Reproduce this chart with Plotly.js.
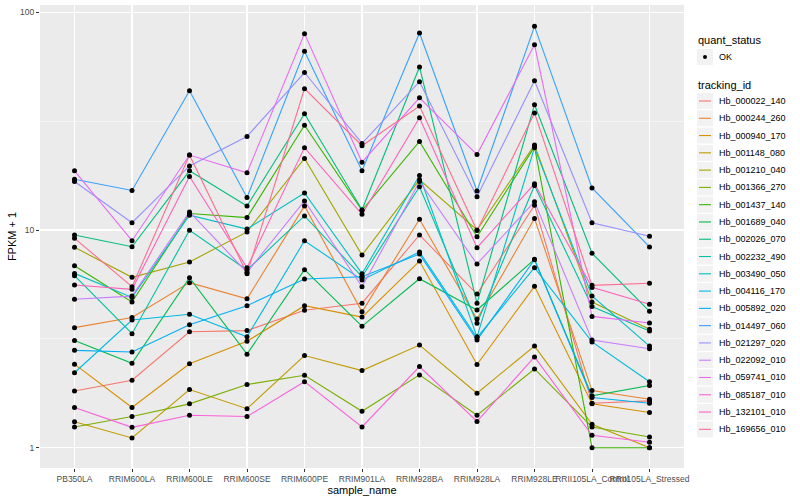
<!DOCTYPE html>
<html><head><meta charset="utf-8">
<script src="https://cdn.plot.ly/plotly-3.0.1.min.js"></script>
<style>html,body{margin:0;padding:0;background:#fff}#chart{width:800px;height:500px}</style>
</head><body><div id="chart"></div>
<script>
const samples = ["PB350LA","RRIM600LA","RRIM600LE","RRIM600SE","RRIM600PE","RRIM901LA","RRIM928BA","RRIM928LA","RRIM928LE","RRII105LA_Control","RRII105LA_Stressed"];
const trackingIds = ["Hb_000022_140","Hb_000244_260","Hb_000940_170","Hb_001148_080","Hb_001210_040","Hb_001366_270","Hb_001437_140","Hb_001689_040","Hb_002026_070","Hb_002232_490","Hb_003490_050","Hb_004116_170","Hb_005892_020","Hb_014497_060","Hb_021297_020","Hb_022092_010","Hb_059741_010","Hb_085187_010","Hb_132101_010","Hb_169656_010"];
const colors = ["#F8766D","#EA8331","#D89000","#C09B00","#A3A500","#7CAE00","#39B600","#00BB4E","#00BF7D","#00C1A3","#00BFC4","#00BAE0","#00B0F6","#35A2FF","#9590FF","#C77CFF","#E76BF3","#FA62DB","#FF62BC","#FF6C91"];

const Hb_000022_140 = [1.82, 2.04, 3.41, 3.45, 4.28, 4.61, 9.49, 5.08, 13.0, 1.60, 1.64];
const Hb_000244_260 = [3.56, 3.96, 5.73, 4.83, 12.9, 4.21, 11.2, 3.9, 11.3, 1.83, 1.67];
const Hb_000940_170 = [2.42, 1.53, 2.43, 3.08, 4.49, 3.98, 7.2, 2.41, 5.51, 1.59, 1.45];
const Hb_001148_080 = [1.317, 1.108, 1.85, 1.51, 2.65, 2.26, 2.96, 1.78, 2.93, 1.28, 1.0];
const Hb_001210_040 = [8.33, 6.06, 7.13, 9.8, 21.3, 7.67, 17.0, 10.0, 24.6, 4.67, 3.50];
const Hb_001366_270 = [1.245, 1.39, 1.59, 1.95, 2.15, 1.47, 2.16, 1.41, 2.30, 1.245, 1.12];
const Hb_001437_140 = [6.85, 4.67, 11.9, 11.4, 30.3, 12.3, 25.5, 9.31, 24.1, 1.0, 1.0];
const Hb_001689_040 = [3.11, 2.44, 6.04, 2.69, 6.57, 3.61, 5.97, 4.29, 7.33, 1.73, 1.93];
const Hb_002026_070 = [9.49, 8.38, 18.7, 12.9, 34.2, 12.4, 56.1, 4.61, 37.6, 7.82, 4.23];
const Hb_002232_490 = [6.17, 3.34, 9.97, 6.55, 11.6, 6.1, 15.8, 3.73, 16.0, 4.45, 3.44];
const Hb_003490_050 = [6.32, 4.9, 11.7, 10.1, 14.8, 6.3, 17.8, 3.23, 23.9, 4.98, 2.93];
const Hb_004116_170 = [2.21, 3.86, 4.10, 3.23, 8.93, 5.9, 7.93, 3.2, 6.71, 3.06, 2.01];
const Hb_005892_020 = [2.80, 2.75, 3.67, 4.49, 5.96, 6.1, 7.75, 3.12, 7.30, 1.70, 1.60];
const Hb_014497_060 = [17.1, 15.2, 43.6, 14.1, 66.2, 18.7, 80.4, 15.1, 86.2, 15.6, 8.36];
const Hb_021297_020 = [16.7, 10.8, 19.7, 26.9, 52.9, 25.0, 48.0, 14.2, 48.5, 10.8, 9.36];
const Hb_022092_010 = [4.81, 4.97, 12.1, 6.39, 13.6, 5.49, 16.7, 6.98, 13.5, 3.12, 2.85];
const Hb_059741_010 = [18.7, 8.93, 22.1, 18.3, 79.8, 20.5, 40.5, 22.2, 71.0, 4.01, 3.74];
const Hb_085187_010 = [1.53, 1.24, 1.41, 1.39, 2.01, 1.245, 2.36, 1.32, 2.61, 1.14, 1.06];
const Hb_132101_010 = [5.59, 5.34, 17.6, 6.71, 23.9, 11.8, 32.8, 8.29, 16.3, 5.45, 4.56];
const Hb_169656_010 = [9.16, 5.49, 22.1, 6.3, 44.6, 24.4, 37.1, 9.95, 34.5, 5.57, 5.69];

const seriesValues = [Hb_000022_140,Hb_000244_260,Hb_000940_170,Hb_001148_080,Hb_001210_040,Hb_001366_270,Hb_001437_140,Hb_001689_040,Hb_002026_070,Hb_002232_490,Hb_003490_050,Hb_004116_170,Hb_005892_020,Hb_014497_060,Hb_021297_020,Hb_022092_010,Hb_059741_010,Hb_085187_010,Hb_132101_010,Hb_169656_010];
const quantStatus = "OK";

const FONT = "Liberation Sans, Arial, sans-serif";
const W = 800, H = 500, ML = 40, MR = 116, MT = 5, MB = 32;
const PW = W - ML - MR, PH = H - MT - MB;
const px = x => (x - ML) / PW;
const py = y => (H - MB - y) / PH;

const traces = [];
seriesValues.forEach((vals, i) => {
  traces.push({
    type: "scatter", mode: "lines", x: samples, y: vals,
    name: trackingIds[i], line: {color: colors[i], width: 1.1},
    showlegend: false, hoverinfo: "skip"
  });
});
const allX = [], allY = [];
seriesValues.forEach(vals => { vals.forEach((v, j) => { allX.push(samples[j]); allY.push(v); }); });
traces.push({
  type: "scatter", mode: "markers", x: allX, y: allY, name: quantStatus,
  marker: {color: "#000", size: 5, symbol: "circle"},
  showlegend: false, hoverinfo: "skip"
});

// legend built from layout shapes/annotations (ggplot-style keys)
const shapes = [], annotations = [];
const KX0 = 697, KX1 = 713, TX = 717;
function key(cy) {
  shapes.push({type: "rect", xref: "paper", yref: "paper", x0: px(KX0), x1: px(KX1), y0: py(cy + 8), y1: py(cy - 8),
    fillcolor: "#F2F2F2", line: {width: 0}, layer: "below"});
}
annotations.push({xref: "paper", yref: "paper", x: px(KX0 - 1), y: py(40), xanchor: "left", yanchor: "middle",
  text: "quant_status", showarrow: false, font: {size: 11, color: "#000", family: FONT}});
key(57);
shapes.push({type: "circle", xref: "paper", yref: "paper", x0: px(703), x1: px(707), y0: py(59), y1: py(55),
  fillcolor: "#000", line: {width: 0}});
annotations.push({xref: "paper", yref: "paper", x: px(TX), y: py(57), xanchor: "left", yanchor: "middle",
  text: quantStatus, showarrow: false, font: {size: 9, color: "#000", family: FONT}});
annotations.push({xref: "paper", yref: "paper", x: px(KX0 - 1), y: py(85), xanchor: "left", yanchor: "middle",
  text: "tracking_id", showarrow: false, font: {size: 11, color: "#000", family: FONT}});
trackingIds.forEach((id, i) => {
  const cy = 101 + i * 17.28;
  key(cy);
  shapes.push({type: "line", xref: "paper", yref: "paper", x0: px(699), x1: px(711), y0: py(cy), y1: py(cy),
    line: {color: colors[i], width: 1.1}});
  annotations.push({xref: "paper", yref: "paper", x: px(TX), y: py(cy), xanchor: "left", yanchor: "middle",
    text: id, showarrow: false, font: {size: 9, color: "#000", family: FONT}});
});

const layout = {
  width: W, height: H,
  margin: {l: ML, r: MR, t: MT, b: MB},
  paper_bgcolor: "#ffffff", plot_bgcolor: "#EBEBEB",
  font: {family: FONT, size: 9, color: "#000"},
  showlegend: false,
  shapes: shapes, annotations: annotations,
  xaxis: {
    type: "category", range: [-0.6, 10.6], tickangle: 0,
    showgrid: true, gridcolor: "#ffffff", gridwidth: 1.1, zeroline: false, showline: false,
    ticks: "outside", ticklen: 3, tickcolor: "#333333", tickwidth: 1,
    tickfont: {size: 8.5, color: "#4D4D4D", family: FONT},
    title: {text: "sample_name", font: {size: 11, color: "#000", family: FONT}, standoff: 0}
  },
  yaxis: {
    type: "log", range: [-0.0933, 2.0336],
    tickvals: [1, 10, 100], ticktext: ["1", "10", "100"],
    showgrid: true, gridcolor: "#ffffff", gridwidth: 1.1, zeroline: false, showline: false,
    ticks: "outside", ticklen: 3, tickcolor: "#333333", tickwidth: 1,
    tickfont: {size: 8.5, color: "#4D4D4D", family: FONT},
    minor: {tickvals: [3.1623, 31.623], showgrid: true, gridcolor: "#ffffff", gridwidth: 0.5, ticks: ""},
    title: {text: "FPKM + 1", font: {size: 11, color: "#000", family: FONT}, standoff: 1}
  }
};
Plotly.newPlot("chart", traces, layout, {staticPlot: true, displayModeBar: false});
</script>
</body></html>
